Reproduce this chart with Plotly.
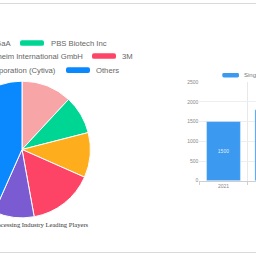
import plotly.graph_objects as go

# ---------------- data ----------------
players = ["Merck KGaA", "PBS Biotech Inc", "Boehringer Ingelheim International GmbH",
           "3M", "Danaher Corporation (Cytiva)", "Others"]
shares = [11.9, 9.1, 10.6, 15.5, 9.5, 43.3]
pie_colors = ["#f8a5a8", "#00d694", "#feae1c", "#fe4466", "#7a5bd2", "#0a89ff"]

years = ["2021", "2022"]
market = [1500, 1800]
bar_name = "Single-use Bioprocessing Market Size"

pie_title = "Single-use Bioprocessing Industry Leading Players"

# ---------------- geometry helpers ----------------
S = 100          # page is scrolled: part of the chart lies left of the window
W = 256 + S
H = 256


def px(x):
    return (x + S) / W


def py(y):
    return 1 - y / H


fig = go.Figure()

fig.add_trace(go.Pie(
    labels=players, values=shares, sort=False, direction="clockwise", rotation=0,
    marker=dict(colors=pie_colors, line=dict(color="white", width=1)),
    textinfo="none", hoverinfo="label+percent", showlegend=False,
    domain=dict(x=[px(-48), px(92)], y=[py(220), py(80)]),
))

fig.add_trace(go.Bar(
    x=years, y=market, name=bar_name, width=0.7,
    marker=dict(color="#3b9af0"),
    texttemplate="%{y}", textposition="inside", insidetextanchor="middle",
    insidetextfont=dict(size=5, color="rgba(255,255,255,0.85)", family="Liberation Sans"),
    showlegend=False, xaxis="x", yaxis="y",
))

shapes = []
annotations = []


def rbox(x0, y0, x1, y1, color, r=2):
    X0, X1 = px(x0), px(x1)
    Y0, Y1 = py(y0), py(y1)
    rx, ry = r / W, r / H
    path = (f"M{X0+rx},{Y0} L{X1-rx},{Y0} Q{X1},{Y0} {X1},{Y0-ry} "
            f"L{X1},{Y1+ry} Q{X1},{Y1} {X1-rx},{Y1} L{X0+rx},{Y1} "
            f"Q{X0},{Y1} {X0},{Y1+ry} L{X0},{Y0-ry} Q{X0},{Y0} {X0+rx},{Y0} Z")
    shapes.append(dict(type="path", xref="paper", yref="paper", path=path,
                       fillcolor=color, line=dict(width=0)))


def label(text, x, y, anchor, size=7.7, color="#666", family="Liberation Sans"):
    annotations.append(dict(text=text, x=px(x), y=py(y), xref="paper", yref="paper",
                            xanchor=anchor, yanchor="middle", showarrow=False,
                            font=dict(size=size, color=color, family=family)))


# pie legend (rows, centred layout partly outside the window)
legend_rows = [
    # (box x0, text x, text anchor, row y, index)
    (-62, 13, "right", 41, 0),
    (20, 49, "left", 41, 1),
    (-99, 85, "right", 54.3, 2),
    (92, 120, "left", 54.3, 3),
    (-76, 58, "right", 68.7, 4),
    (66, 94, "left", 68.7, 5),
]
for bx, tx, anc, ry, i in legend_rows:
    rbox(bx, ry - 2.9, bx + 24, ry + 2.9, pie_colors[i])
    label(players[i], tx, ry, anc)

label(pie_title, 91, 227, "right", size=6.6, color="#333", family="Liberation Serif")

# bar legend
rbox(222.3, 71.7, 239, 76.3, "#3b9af0", r=1.5)
label(bar_name, 242, 74, "left", size=6, color="#777")

# page frame lines
for yy in (0.5, 255.5):
    shapes.append(dict(type="line", xref="paper", yref="paper", x0=0, x1=1,
                       y0=py(yy), y1=py(yy), line=dict(color="#d9d9d9", width=1)))

band = 48.4
vis = 256 - 199.3
fig.update_layout(
    width=W, height=H, margin=dict(l=0, r=0, t=0, b=0),
    paper_bgcolor="white", plot_bgcolor="white",
    shapes=shapes, annotations=annotations,
    xaxis=dict(domain=[px(199.3), 1], type="category", range=[-0.5, -0.5 + vis / band],
               tickson="boundaries", showgrid=True, gridcolor="#e8e8e8", gridwidth=1,
               showline=True, linecolor="#cfcfcf", ticks="outside", ticklen=3,
               tickcolor="#cfcfcf", tickfont=dict(size=5, color="#888", family="Liberation Sans"),
               fixedrange=True),
    yaxis=dict(domain=[py(182), py(81)], range=[0, 2500], dtick=500,
               showgrid=True, gridcolor="#eeeeee", zeroline=False, showline=False,
               ticks="", tickfont=dict(size=5, color="#888", family="Liberation Sans"),
               fixedrange=True),
    bargap=0.3,
)

post = ("var d=document.getElementById('{plot_id}');"
        "d.style.marginLeft='-%dpx';"
        "document.body.style.margin='0';"
        "document.body.style.overflow='hidden';"
        "document.documentElement.style.overflow='hidden';" % S)

fig.write_html("out.html", config=dict(displayModeBar=False), post_script=post)
